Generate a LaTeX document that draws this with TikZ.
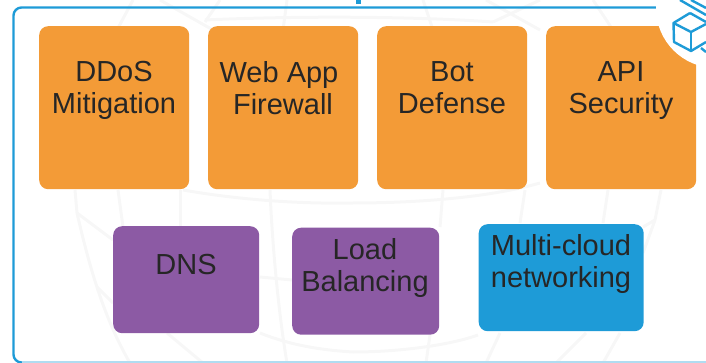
\documentclass[tikz,border=0pt]{standalone}
\usepackage{fontspec}
\setmainfont{Liberation Sans}
\definecolor{frameblue}{HTML}{1E9BD7}
\definecolor{boxorange}{HTML}{F39B37}
\definecolor{boxpurple}{HTML}{8C5AA4}
\definecolor{inktext}{HTML}{262626}
\definecolor{globeline}{HTML}{F7F7F7}
\tikzset{
  x=1pt,y=-1pt,
  tile/.style={anchor=north west,rounded corners=9pt,inner sep=0pt},
  orangetile/.style={tile,fill=boxorange,minimum width=150pt,minimum height=163pt},
  purpletile/.style={tile,fill=boxpurple,minimum height=107pt},
  tiletext/.style={align=center,text=inktext,font=\fontsize{29}{32}\selectfont,anchor=north,inner sep=0pt},
  globe/.style={draw=globeline,line width=3pt},
  icon/.style={draw=frameblue,line width=2.4pt,line join=round}
}
\begin{document}
\begin{tikzpicture}
\useasboundingbox (0,0) rectangle (706,363);
\clip (0,0) rectangle (706,363);
% globe, top strip
\draw[globe] (133,0) -- (117,30);
\draw[globe] (160,0) -- (213,30);
\draw[globe] (220,0) -- (205,22);
\draw[globe] (287,0) -- (283,30);
\draw[globe] (423,0) -- (433,30);
\draw[globe] (486,0) -- (540,30);
\draw[globe] (540,0) -- (493,22);
\draw[globe] (593,0) -- (613,30);
\draw[globe] (205,20) .. controls (290,16) and (410,16) .. (493,22);
% globe, lower part
\draw[globe] (75,190) -- (77,213) .. controls (90,270) and (105,320) .. (130,363);
\draw[globe] (118,190) -- (123,227);
\draw[globe] (180,190) -- (180,227);
\draw[globe] (77,213) -- (113,240);
\draw[globe] (183,190) .. controls (240,200) and (300,204) .. (353,203) .. controls (400,203) and (480,200) .. (540,183);
\draw[globe] (270,190) .. controls (272,240) and (278,310) .. (287,363);
\draw[globe] (260,277) -- (292,280);
\draw[globe] (97,287) -- (113,303);
\draw[globe] (167,333) -- (203,363);
\draw[globe] (260,333) .. controls (290,345) and (320,350) .. (353,352) .. controls (400,352) and (450,345) .. (478,335);
\draw[globe] (443,190) -- (440,227);
\draw[globe] (525,190) -- (520,223);
\draw[globe] (608,190) -- (603,223);
\draw[globe] (661,190) -- (655,220) -- (643,253);
\draw[globe] (655,220) -- (643,227);
\draw[globe] (430,335) -- (426,363);
\draw[globe] (500,333) -- (486,363);
\draw[globe] (586,333) -- (556,363);
\draw[globe] (620,333) -- (603,363);
% frame
\draw[frameblue,line width=2.4pt,rounded corners=8pt] (657,7.5) -- (13.5,7.5) -- (13.5,362.5) -- (25,362.5);
\draw[frameblue!35,line width=1.6pt] (22,362.2) -- (706,362.2);
\fill[frameblue] (356,0) rectangle (360.5,4);
% tiles
\node[orangetile] (ddos) at (39,26) {};
\node[orangetile] (waf) at (208,26) {};
\node[orangetile] (bot) at (377,26) {};
\node[orangetile] (api) at (546,26) {};
\node[purpletile,minimum width=146pt] (dns) at (113,226) {};
\node[purpletile,minimum width=147pt] (lb) at (292,227.5) {};
\node[tile,fill=frameblue,minimum width=165pt,minimum height=107pt] (mc) at (478.5,224) {};
% labels
\node[tiletext] (t1) at (114,61.5) {DDoS\\Mitigation};
\node[tiletext] (t2) at (279,61.5) {Web App\\\hspace{8pt}Firewall};
\node[tiletext] (t3) at (452,61.5) {Bot\\Defense};
\node[tiletext] (t4) at (621,61.5) {API\\Security};
\node[tiletext] (t5) at (186,254) {DNS};
\node[tiletext] (t6) at (365,238.5) {Load\\Balancing};
\node[tiletext] (t7) at (561,234.5) {Multi-cloud\\networking};
% corner
\fill[white] (716,8) circle (60);
\draw[icon] (690,13) -- (673.5,23) -- (674,42) -- (691,51) -- (706,42);
\draw[icon] (673.5,23) -- (691,32) -- (706,24);
\draw[icon] (690,13) -- (706,22);
\draw[icon] (691,32) -- (691,51);
\draw[icon] (680,0) -- (706,15);
\draw[icon] (691,0) -- (706,8);
\draw[icon] (701,48) -- (706,52);
\end{tikzpicture}
\end{document}
